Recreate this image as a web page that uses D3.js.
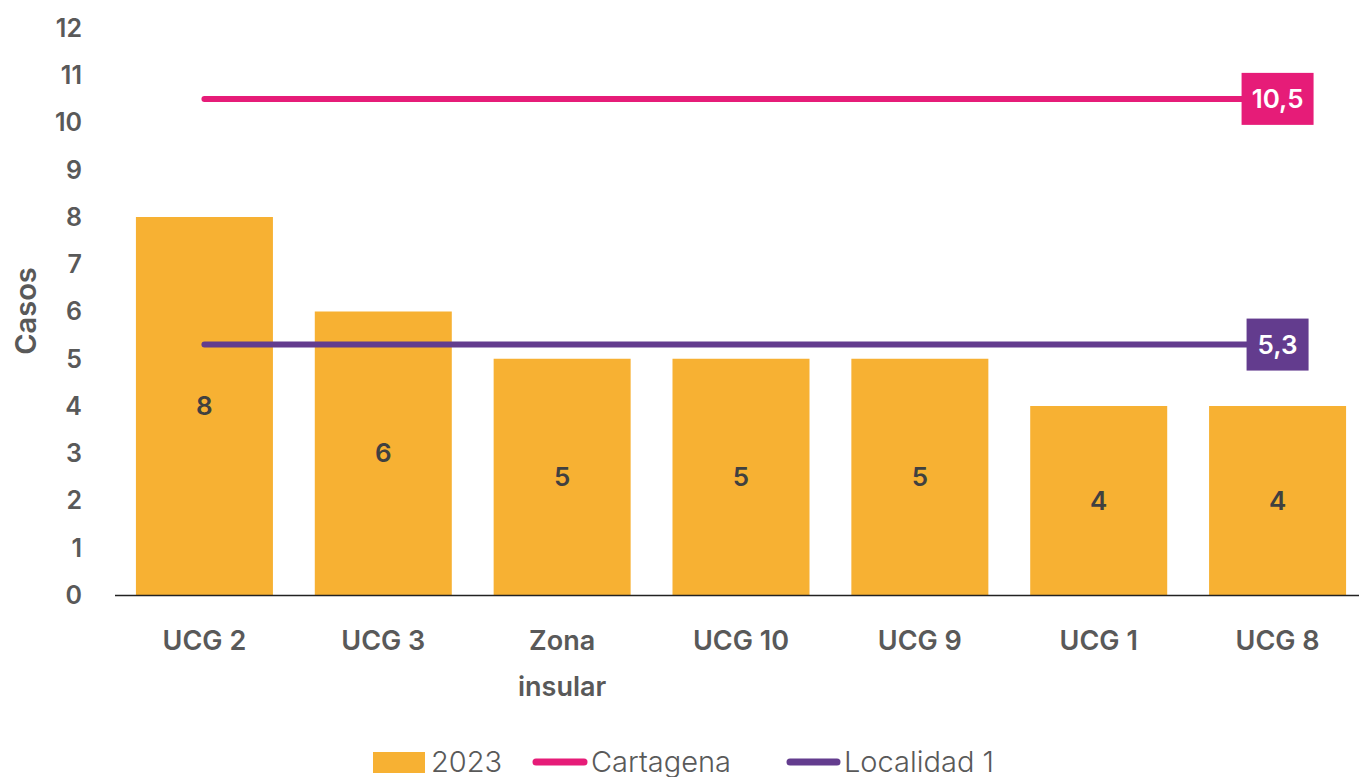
<!DOCTYPE html>
<html><head><meta charset="utf-8">
<script src="https://cdn.jsdelivr.net/npm/d3@7"></script>
<style>body{margin:0;background:#fff}svg{display:block}</style>
</head><body>
<script>
const categories = ["UCG 2","UCG 3","Zona insular","UCG 10","UCG 9","UCG 1","UCG 8"];
const values2023 = [8,6,5,5,5,4,4];
const cartagena = 10.5;
const localidad = 5.3;
const yTicks = [0,1,2,3,4,5,6,7,8,9,10,11,12];
const seriesNames = ["2023","Cartagena","Localidad 1"];
const colors = {bar:"#F7B133", cart:"#E61C78", loc:"#633C8E", text:"#595959", val:"#404040"};
const FONT = "Inter, sans-serif";

const W=1359,H=777;
const svg=d3.select("body").append("svg").attr("width",W).attr("height",H);
const x=d3.scaleBand().domain(categories).range([115,1367]).paddingInner(0.234).paddingOuter(0.117);
const y=d3.scaleLinear().domain([0,12]).range([595,28]);

// y tick labels
svg.append("g").selectAll("text").data(yTicks).join("text")
 .attr("x",82).attr("y",d=>y(d)).attr("dy","0.35em").attr("text-anchor","end")
 .attr("font-family",FONT).attr("font-weight",600).attr("font-size",25).attr("fill",colors.text).text(d=>d);
svg.append("text").attr("transform","translate(36,311) rotate(-90)").attr("text-anchor","middle")
 .attr("font-family",FONT).attr("font-weight",600).attr("font-size",29).attr("fill",colors.text).text("Casos");

// bars
svg.append("g").selectAll("rect").data(categories).join("rect")
 .attr("x",d=>x(d)).attr("width",x.bandwidth()).attr("y",(d,i)=>y(values2023[i])).attr("height",(d,i)=>y(0)-y(values2023[i]))
 .attr("fill",colors.bar);
svg.append("g").selectAll("text").data(categories).join("text")
 .attr("x",d=>x(d)+x.bandwidth()/2).attr("y",(d,i)=>(y(values2023[i])+y(0))/2).attr("dy","0.35em").attr("text-anchor","middle")
 .attr("font-family",FONT).attr("font-weight",600).attr("font-size",26).attr("fill",colors.val).text((d,i)=>values2023[i]);

// axis line
svg.append("line").attr("x1",115).attr("x2",W).attr("y1",y(0)+0.5).attr("y2",y(0)+0.5).attr("stroke","#222").attr("stroke-width",1.5);

// x labels
const xl=svg.append("g").selectAll("text").data(categories).join("text")
 .attr("x",d=>x(d)+x.bandwidth()/2).attr("y",641).attr("text-anchor","middle")
 .attr("font-family",FONT).attr("font-weight",600).attr("font-size",27).attr("fill",colors.text);
xl.each(function(d){
  const words=d==="Zona insular"?["Zona","insular"]:[d];
  const t=d3.select(this);
  words.forEach((w,i)=>t.append("tspan").attr("x",x(d)+x.bandwidth()/2).attr("dy",i===0?"0.35em":"1.67em").text(w));
});

// reference lines
const xc0=x(categories[0])+x.bandwidth()/2, xc1=x(categories[categories.length-1])+x.bandwidth()/2;
function refLine(v,col,label,bw){
  svg.append("line").attr("x1",xc0).attr("x2",xc1).attr("y1",y(v)).attr("y2",y(v))
   .attr("stroke",col).attr("stroke-width",6).attr("stroke-linecap","round");
  svg.append("rect").attr("x",xc1-bw/2).attr("y",y(v)-26).attr("width",bw).attr("height",52).attr("fill",col);
  svg.append("text").attr("x",xc1).attr("y",y(v)).attr("dy","0.35em").attr("text-anchor","middle")
   .attr("font-family",FONT).attr("font-weight",600).attr("font-size",26).attr("fill","#fff").text(label);
}
refLine(cartagena,colors.cart,"10,5",72);
refLine(localidad,colors.loc,"5,3",62);

// legend
const lg=svg.append("g").attr("font-family",FONT).attr("font-weight",300).attr("font-size",29).attr("fill",colors.text);
lg.append("rect").attr("x",373).attr("y",752).attr("width",52).attr("height",21).attr("fill",colors.bar);
lg.append("text").attr("x",431).attr("y",762).attr("dy","0.35em").text(seriesNames[0]);
lg.append("line").attr("x1",536).attr("x2",584).attr("y1",762).attr("y2",762).attr("stroke",colors.cart).attr("stroke-width",7).attr("stroke-linecap","round");
lg.append("text").attr("x",591).attr("y",762).attr("dy","0.35em").text(seriesNames[1]);
lg.append("line").attr("x1",790).attr("x2",837).attr("y1",762).attr("y2",762).attr("stroke",colors.loc).attr("stroke-width",7).attr("stroke-linecap","round");
lg.append("text").attr("x",844).attr("y",762).attr("dy","0.35em").text(seriesNames[2]);
</script>
</body></html>
